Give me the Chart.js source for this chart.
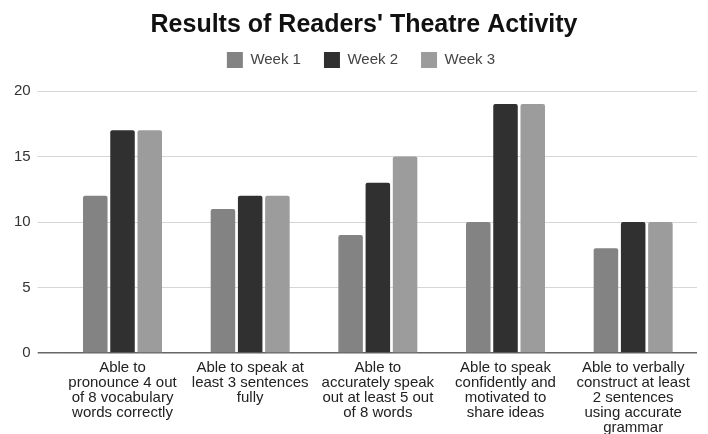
<!DOCTYPE html>
<html>
<head>
<meta charset="utf-8">
<script src="https://cdn.jsdelivr.net/npm/chart.js@4"></script>
<style>
  body { margin: 0; background: #fff; }
  #wrap { width: 708px; height: 434px; }
</style>
</head>
<body>
<div id="wrap"><canvas id="myChart"></canvas></div>
<script>
const categories = [
	['Able to', 'pronounce 4 out', 'of 8 vocabulary', 'words correctly'],
	['Able to speak at', 'least 3 sentences', 'fully'],
	['Able to', 'accurately speak', 'out at least 5 out', 'of 8 words'],
	['Able to speak', 'confidently and', 'motivated to', 'share ideas'],
	['Able to verbally', 'construct at least', '2 sentences', 'using accurate', 'grammar'],
];
const week1 = [12, 11, 9, 10, 8];
const week2 = [17, 12, 13, 19, 10];
const week3 = [17, 12, 15, 19, 10];
const yTicks = [0, 5, 10, 15, 20];

const fontFam = '"Liberation Sans", Arial, sans-serif';

function bar(label, data, color) {
	return {
		label: label,
		data: data,
		backgroundColor: color,
		borderRadius: 2,
		borderSkipped: 'bottom',
		categoryPercentage: 0.64,
		barPercentage: 0.9,
	};
}

// extra room under the legend, and header centred a bit to the right
const headerTweak = {
	id: 'headerTweak',
	beforeInit(chart) {
		const fit = chart.legend.fit;
		chart.legend.fit = function () {
			fit.bind(chart.legend)();
			this.height += 13;
		};
	},
	beforeDraw(chart) {
		const t = chart.titleBlock, l = chart.legend;
		t.left += 12; t.right += 12;
		l.left += 9; l.right += 9;
		l.adjustHitBoxes();
	},
};

const canvas = document.getElementById('myChart').getContext('2d');
const cfg = {
	type: 'bar',
	data: {
		labels: categories,
		datasets: [
			bar('Week 1', week1, '#838383'),
			bar('Week 2', week2, '#303030'),
			bar('Week 3', week3, '#9c9c9c'),
		],
	},
	options: {
		responsive: true,
		maintainAspectRatio: false,
		animation: false,
		layout: { padding: { left: 7, right: 11, top: 0, bottom: -8 } },
		plugins: {
			title: {
				display: true,
				text: "Results of Readers' Theatre Activity",
				color: '#111',
				font: { family: fontFam, size: 25, weight: 'bold', lineHeight: 1 },
				padding: { top: 13, bottom: -9 },
			},
			legend: {
				labels: {
					color: '#444',
					font: { family: fontFam, size: 15 },
					boxWidth: 16,
					boxHeight: 16,
					padding: 23,
				},
			},
			tooltip: { enabled: false },
		},
		scales: {
			x: {
				grid: { display: false, drawTicks: false },
				border: { display: false },
				ticks: {
					color: '#222',
					font: { family: fontFam, size: 15, lineHeight: 1 },
					maxRotation: 0,
					autoSkip: false,
					padding: 7,
				},
			},
			y: {
				min: 0,
				max: 20,
				afterBuildTicks: (axis) => { axis.ticks = yTicks.map(v => ({ value: v })); },
				grid: {
					color: (ctx) => ctx.tick && ctx.tick.value === 0 ? '#666' : '#d6d6d6',
					lineWidth: (ctx) => ctx.tick && ctx.tick.value === 0 ? 1.5 : 1,
					tickLength: 21,
				},
				border: { display: false },
				ticks: {
					color: '#333',
					font: { family: fontFam, size: 15 },
					padding: 7,
				},
			},
		},
	},
	plugins: [headerTweak],
};
let myChart = new Chart(canvas, cfg);
</script>
</body>
</html>
